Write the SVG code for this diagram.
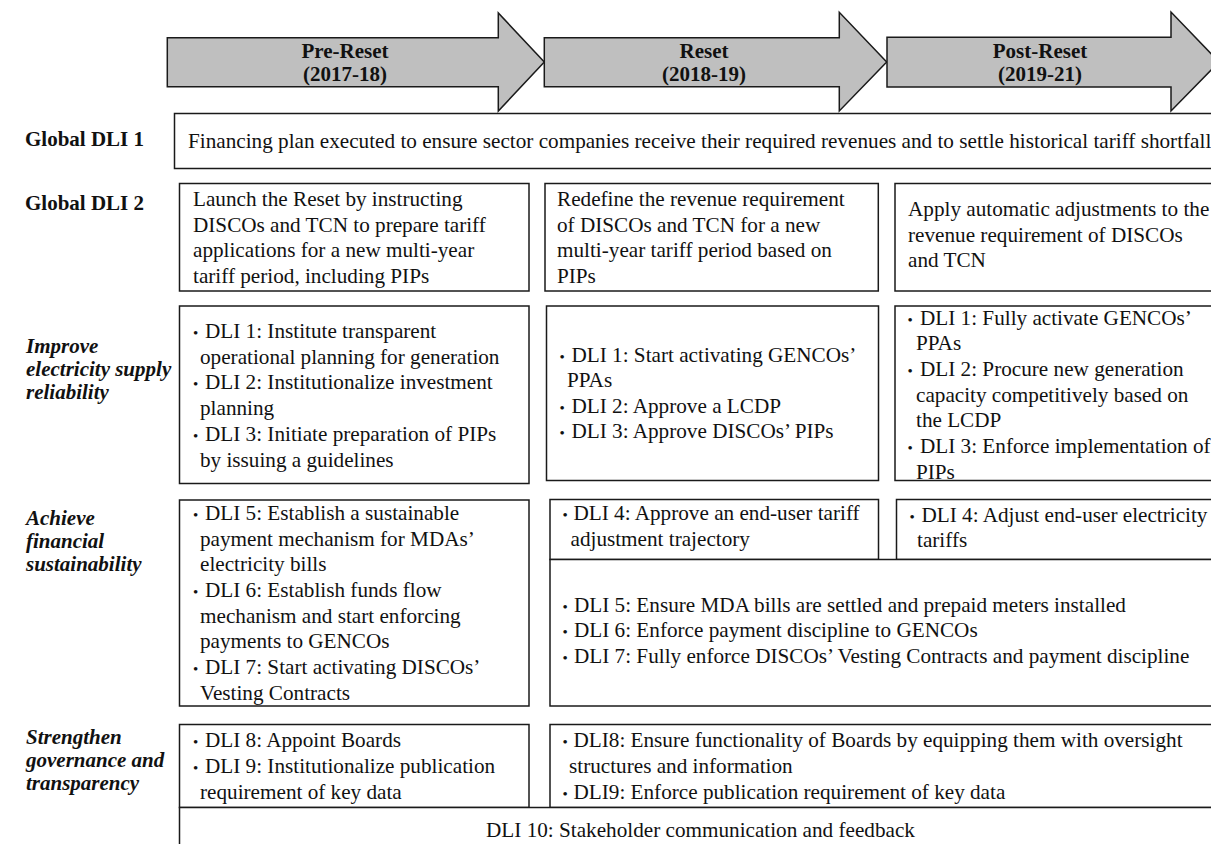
<svg xmlns="http://www.w3.org/2000/svg" width="1211" height="844" viewBox="0 0 1211 844">
<style>
.box{fill:#fff;stroke:#1a1a1a;stroke-width:1.5}
.arrow{fill:#bfbfbf;stroke:#1a1a1a;stroke-width:1.5;stroke-linejoin:miter}
text{font-family:"Liberation Serif","Times New Roman",serif;font-size:21.2px;fill:#111}
.hd{font-weight:bold;text-anchor:middle;font-size:21px}
.lbl{font-weight:bold;font-size:21px}
.lbli{font-weight:bold;font-style:italic;font-size:21px}
.bul{font-size:15px}
.mid{text-anchor:middle}
</style>
<rect width="1211" height="844" fill="#fff"/>

<g id="phase-pre-reset">
<polygon class="arrow" points="167.3,37.7 498.3,37.7 498.3,13 544.3,62 498.3,111 498.3,86.7 167.3,86.7"/>
<text class="hd" x="345" y="58">Pre-Reset</text>
<text class="hd" x="345" y="81">(2017-18)</text>
</g>
<g id="phase-reset">
<polygon class="arrow" points="544.3,37.7 839.3,37.7 839.3,12.3 886.7,62 839.3,111 839.3,86.7 544.3,86.7"/>
<text class="hd" x="704" y="58">Reset</text>
<text class="hd" x="704" y="81">(2018-19)</text>
</g>
<g id="phase-post-reset">
<polygon class="arrow" points="887,37.3 1171,37.3 1171,12 1219,62 1171,111 1171,87 887,87"/>
<text class="hd" x="1040" y="58">Post-Reset</text>
<text class="hd" x="1040" y="81">(2019-21)</text>
</g>

<g id="labels">
<text class="lbl" x="25" y="146">Global DLI 1</text>
<text class="lbl" x="25" y="210">Global DLI 2</text>
<text class="lbli" x="26" y="353">Improve</text>
<text class="lbli" x="26" y="376">electricity supply</text>
<text class="lbli" x="26" y="399">reliability</text>
<text class="lbli" x="26" y="525">Achieve</text>
<text class="lbli" x="26" y="548">financial</text>
<text class="lbli" x="26" y="571">sustainability</text>
<text class="lbli" x="26" y="744">Strengthen</text>
<text class="lbli" x="26" y="767">governance and</text>
<text class="lbli" x="26" y="790">transparency</text>
</g>

<g id="global-dli1">
<rect class="box" x="174.5" y="113.5" width="1050" height="55"/>
<text x="188" y="148">Financing plan executed to ensure sector companies receive their required revenues and to settle historical tariff shortfall</text>
</g>

<g id="gdli2-pre">
<rect class="box" x="179.5" y="183.5" width="349.5" height="107.5"/>
<text x="193" y="206">Launch the Reset by instructing</text>
<text x="193" y="231.5">DISCOs and TCN to prepare tariff</text>
<text x="193" y="257">applications for a new multi-year</text>
<text x="193" y="282.5">tariff period, including PIPs</text>
</g>
<g id="gdli2-reset">
<rect class="box" x="545" y="183.5" width="333.3" height="107.5"/>
<text x="557" y="206">Redefine the revenue requirement</text>
<text x="557" y="231.5">of DISCOs and TCN for a new</text>
<text x="557" y="257">multi-year tariff period based on</text>
<text x="557" y="282.5">PIPs</text>
</g>
<g id="gdli2-post">
<rect class="box" x="895" y="183.5" width="330" height="107.5"/>
<text x="908" y="216">Apply automatic adjustments to the</text>
<text x="908" y="241.5">revenue requirement of DISCOs</text>
<text x="908" y="267">and TCN</text>
</g>

<g id="supply-pre">
<rect class="box" x="179.5" y="306" width="349.5" height="177.5"/>
<text class="bul" x="193" y="338">•</text><text x="205" y="338">DLI 1: Institute transparent</text>
<text x="200" y="363.7">operational planning for generation</text>
<text class="bul" x="193" y="389.4">•</text><text x="205" y="389.4">DLI 2: Institutionalize investment</text>
<text x="200" y="415.1">planning</text>
<text class="bul" x="193" y="440.8">•</text><text x="205" y="440.8">DLI 3: Initiate preparation of PIPs</text>
<text x="200" y="466.5">by issuing a guidelines</text>
</g>
<g id="supply-reset">
<rect class="box" x="546.5" y="306" width="332" height="174.5"/>
<text class="bul" x="559.5" y="361.5">•</text><text x="571.5" y="361.5">DLI 1: Start activating GENCOs’</text>
<text x="567" y="387">PPAs</text>
<text class="bul" x="559.5" y="412.5">•</text><text x="571.5" y="412.5">DLI 2: Approve a LCDP</text>
<text class="bul" x="559.5" y="438">•</text><text x="571.5" y="438">DLI 3: Approve DISCOs’ PIPs</text>
</g>
<g id="supply-post">
<rect class="box" x="895" y="306" width="330" height="174.5"/>
<text class="bul" x="907.5" y="324.5">•</text><text x="920" y="324.5">DLI 1: Fully activate GENCOs’</text>
<text x="916" y="350.2">PPAs</text>
<text class="bul" x="907.5" y="375.9">•</text><text x="920" y="375.9">DLI 2: Procure new generation</text>
<text x="916" y="401.6">capacity competitively based on</text>
<text x="916" y="427.3">the LCDP</text>
<text class="bul" x="907.5" y="453">•</text><text x="920" y="453">DLI 3: Enforce implementation of</text>
<text x="916" y="478.7">PIPs</text>
</g>

<g id="finance-pre">
<rect class="box" x="179.5" y="500" width="349.5" height="206"/>
<text class="bul" x="193" y="520">•</text><text x="205" y="520">DLI 5: Establish a sustainable</text>
<text x="200" y="545.6">payment mechanism for MDAs’</text>
<text x="200" y="571.3">electricity  bills</text>
<text class="bul" x="193" y="597">•</text><text x="205" y="597">DLI 6: Establish funds flow</text>
<text x="200" y="622.6">mechanism and start enforcing</text>
<text x="200" y="648.3">payments to GENCOs</text>
<text class="bul" x="193" y="674">•</text><text x="205" y="674">DLI 7: Start activating DISCOs’</text>
<text x="200" y="699.6">Vesting Contracts</text>
</g>
<g id="finance-tariff-reset">
<rect class="box" x="550" y="499.5" width="328.5" height="60"/>
<text class="bul" x="562.5" y="520">•</text><text x="573.5" y="520">DLI 4: Approve an end-user tariff</text>
<text x="570.5" y="545.5">adjustment trajectory</text>
</g>
<g id="finance-tariff-post">
<rect class="box" x="896.5" y="499.5" width="330" height="60"/>
<text class="bul" x="909.5" y="522">•</text><text x="921.5" y="522">DLI 4: Adjust end-user electricity</text>
<text x="917" y="547">tariffs</text>
</g>
<g id="finance-reset-post">
<rect class="box" x="550" y="559.5" width="675" height="146.5"/>
<text class="bul" x="562.5" y="611.7">•</text><text x="574" y="611.7">DLI 5: Ensure MDA bills are settled and prepaid meters installed</text>
<text class="bul" x="562.5" y="637.3">•</text><text x="574" y="637.3">DLI 6: Enforce payment discipline to GENCOs</text>
<text class="bul" x="562.5" y="663">•</text><text x="574" y="663">DLI 7: Fully enforce DISCOs’ Vesting Contracts and payment discipline</text>
</g>

<g id="governance-pre">
<rect class="box" x="179.5" y="724.5" width="349.5" height="83"/>
<text class="bul" x="193" y="747.3">•</text><text x="205" y="747.3">DLI 8: Appoint Boards</text>
<text class="bul" x="193" y="773.3">•</text><text x="205" y="773.3">DLI 9: Institutionalize publication</text>
<text x="200" y="799.3">requirement of key data</text>
</g>
<g id="governance-reset-post">
<rect class="box" x="550" y="724.5" width="675" height="83"/>
<text class="bul" x="562.5" y="747.3">•</text><text x="573.5" y="747.3">DLI8: Ensure functionality of Boards by equipping them with oversight</text>
<text x="569" y="773.3">structures and information</text>
<text class="bul" x="562.5" y="799.3">•</text><text x="573.5" y="799.3">DLI9: Enforce publication requirement of key data</text>
</g>

<g id="dli10">
<rect class="box" x="179.5" y="807.5" width="1045" height="60"/>
<text class="mid" x="700.5" y="836.7">DLI 10: Stakeholder communication and feedback</text>
</g>

<g id="connectors"></g>
</svg>
